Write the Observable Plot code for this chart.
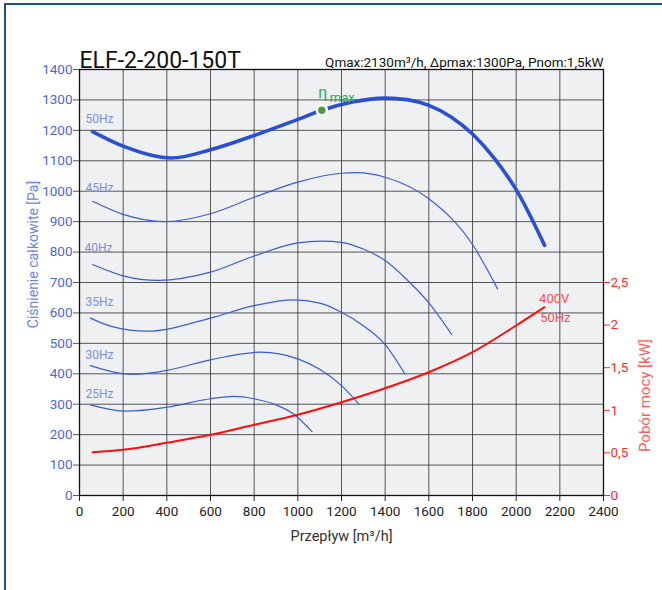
<!DOCTYPE html>
<html><head><meta charset="utf-8">
<script src="https://cdn.jsdelivr.net/npm/d3@7"></script>
<script src="https://cdn.jsdelivr.net/npm/@observablehq/plot@0.6"></script>
<style>
body{margin:0;background:#fff;overflow:hidden}
#wrap{position:relative;width:662px;height:590px;overflow:hidden}
#border{position:absolute;left:4px;top:3px;width:800px;height:800px;border-left:2px solid #1f4f8e;border-top:2px solid #1f4f8e;box-sizing:border-box}
#chart{position:absolute;left:0;top:0}
</style></head>
<body><div id="wrap"><div id="border"></div><div id="chart"></div></div>
<script>
const title = "ELF-2-200-150T";
const subtitle = "Qmax:2130m³/h, Δpmax:1300Pa, Pnom:1,5kW";
const xLabel = "Przepływ [m³/h]";
const yLabel = "Ciśnienie całkowite [Pa]";
const y2Label = "Pobór mocy [kW]";
const xTicks = [0,200,400,600,800,1000,1200,1400,1600,1800,2000,2200,2400];
const yTicks = [0,100,200,300,400,500,600,700,800,900,1000,1100,1200,1300,1400];
const kwTicks = [0,0.5,1,1.5,2,2.5];
const PA_PER_KW = 280; // right axis: 5 kW spans 1400 Pa

// pressure curves [flow m3/h, pressure Pa]
const curve50 = [[60,1196],[200,1148],[420,1109],[600,1136],[800,1183],[1000,1236],[1110,1266],[1250,1293],[1400,1306],[1500,1301],[1600,1282],[1700,1245],[1800,1188],[1900,1108],[2000,1005],[2130,822]];
const curve45 = [[60,967],[200,924],[390,900],[600,926],[800,980],[1000,1030],[1200,1059],[1270,1061],[1400,1046],[1600,975],[1800,825],[1915,679]];
const curve40 = [[60,759],[200,722],[360,707],[600,734],[800,787],[1000,830],[1110,836],[1200,832],[1300,810],[1400,772],[1500,709],[1600,633],[1705,529]];
const curve35 = [[50,583],[150,555],[310,540],[600,583],[800,624],[980,643],[1100,632],[1200,602],[1300,558],[1400,496],[1490,400]];
const curve30 = [[50,427],[245,398],[400,411],[600,446],[830,471],[1000,449],[1100,415],[1200,361],[1280,300]];
const curve25 = [[50,298],[214,277],[400,290],[600,318],[710,326],[800,318],[900,298],[980,268],[1065,210]];
// power curve [flow m3/h, kW]
const power = [[60,0.508],[200,0.536],[400,0.619],[600,0.712],[800,0.83],[1000,0.948],[1200,1.095],[1400,1.259],[1600,1.447],[1800,1.682],[2000,1.995],[2130,2.21]];

const curveLabels = [{q:27,p:1237,t:"50Hz"},{q:27,p:1010,t:"45Hz"},{q:23,p:813,t:"40Hz"},{q:27,p:634,t:"35Hz"},{q:27,p:461,t:"30Hz"},{q:27,p:333,t:"25Hz"}];
const powerLabels = [{q:2105,p:647,t:"400V"},{q:2110,p:585,t:"50Hz"}];
const etaPoint = [{q:1110,p:1266}];

const font = "Roboto, 'Noto Sans', sans-serif";
const lineOpt = (extra) => Object.assign({x: d => d[0], y: d => d[1], curve: "monotone-x"}, extra);
const kwFmt = d => String(+(d / PA_PER_KW).toFixed(2)).replace(".", ",");

const plot = Plot.plot({
  width: 662, height: 590,
  marginLeft: 79, marginRight: 59, marginTop: 69, marginBottom: 95,
  style: {fontFamily: font, background: "transparent", overflow: "visible"},
  x: {domain: [0, 2400]},
  y: {domain: [0, 1400]},
  marks: [
    Plot.frame({fill: "#eff0f2", stroke: null}),
    Plot.gridX(xTicks.slice(1, -1), {stroke: "#222", strokeOpacity: 0.75, strokeWidth: 1}),
    Plot.gridY(yTicks.slice(1, -1), {stroke: "#222", strokeOpacity: 0.75, strokeWidth: 1}),
    Plot.frame({stroke: "#111", strokeWidth: 1.3}),
    Plot.line(curve45, lineOpt({stroke: "#3a5cd8", strokeWidth: 1.2})),
    Plot.line(curve40, lineOpt({stroke: "#3a5cd8", strokeWidth: 1.2})),
    Plot.line(curve35, lineOpt({stroke: "#3a5cd8", strokeWidth: 1.2})),
    Plot.line(curve30, lineOpt({stroke: "#3a5cd8", strokeWidth: 1.2})),
    Plot.line(curve25, lineOpt({stroke: "#3a5cd8", strokeWidth: 1.2})),
    Plot.line(power, {x: d => d[0], y: d => d[1] * PA_PER_KW, curve: "monotone-x", stroke: "#ff0d0d", strokeWidth: 2}),
    Plot.line(curve50, lineOpt({stroke: "#2a4fd3", strokeWidth: 3.6})),
    Plot.dot(etaPoint, {x: "q", y: "p", r: 5, fill: "#4a9d3c", stroke: "#fff", strokeWidth: 2.5}),
    Plot.text(etaPoint, {x: "q", y: "p", text: () => "η", dx: 1, dy: -17, fontSize: 16, fill: "#1fae5c"}),
    Plot.text(etaPoint, {x: "q", y: "p", text: () => "max", dx: 8, dy: -12, textAnchor: "start", fontSize: 13, fill: "#1fae5c"}),
    Plot.text(curveLabels, {x: "q", y: "p", text: "t", textAnchor: "start", fontSize: 12, fill: "#7b8fe0"}),
    Plot.text(powerLabels, {x: "q", y: "p", text: "t", textAnchor: "start", fontSize: 13, fill: "#ff4a4a"}),
    Plot.axisX(xTicks, {tickSize: 6, tickPadding: 5, label: null, fontSize: 13.5, fill: "#222", stroke: "#222", tickFormat: d => String(d)}),
    Plot.axisY(yTicks, {tickSize: 6, tickPadding: 1, label: null, fontSize: 13.5, fill: "#4a66dd", stroke: "#555", tickFormat: d => String(d)}),
    Plot.axisY(kwTicks.map(k => k * PA_PER_KW), {anchor: "right", tickSize: 6, tickPadding: 1, label: null, fontSize: 13.5, fill: "#ff2a2a", stroke: "#ff2a2a", tickFormat: kwFmt}),
    Plot.text([title], {frameAnchor: "top-left", text: d => d, textAnchor: "start", lineAnchor: "bottom", dy: -2, fontSize: 23, fill: "#111"}),
    Plot.text([subtitle], {frameAnchor: "top-right", text: d => d, textAnchor: "end", lineAnchor: "bottom", dy: -3, fontSize: 13.5, fill: "#111"}),
    Plot.text([xLabel], {frameAnchor: "bottom", text: d => d, textAnchor: "middle", dy: 45, fontSize: 14.5, fill: "#333"}),
    Plot.text([yLabel], {frameAnchor: "left", text: d => d, textAnchor: "middle", dx: -46, dy: -28, rotate: -90, fontSize: 14, fill: "#6d86e3"}),
    Plot.text([y2Label], {frameAnchor: "right", text: d => d, textAnchor: "middle", dx: 42, dy: 113, rotate: -90, fontSize: 15, fill: "#ff5c5c"})
  ]
});
document.getElementById("chart").appendChild(plot);
</script></body></html>
